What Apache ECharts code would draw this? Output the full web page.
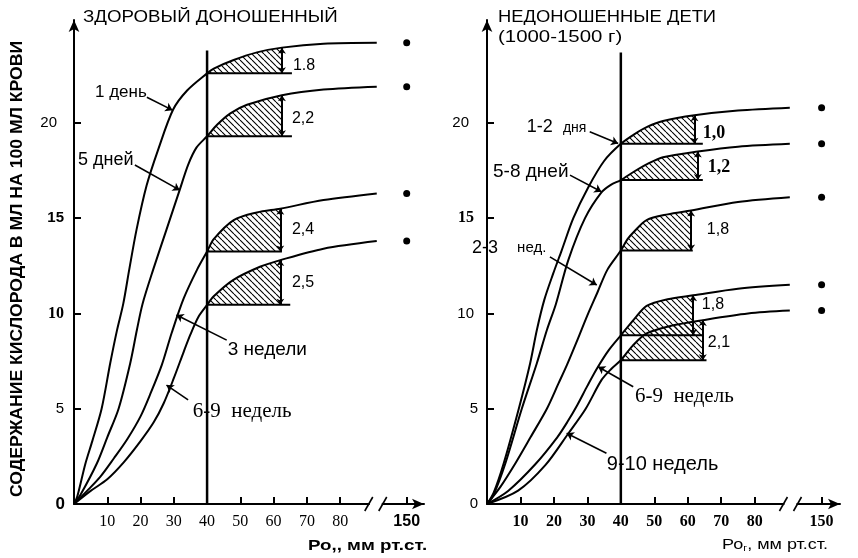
<!DOCTYPE html>
<html><head><meta charset="utf-8">
<script src="https://cdn.jsdelivr.net/npm/echarts@6/dist/echarts.min.js"></script>
<style>html,body{margin:0;padding:0;background:#fff}#c{width:858px;height:558px}</style>
</head><body><div id="c"></div>
<script>
// ---------------- DATA ----------------
const xTickValues = [10, 20, 30, 40, 50, 60, 70, 80, 150];
const yTickValues = [0, 5, 10, 15, 20];
const breakValue = 150;            // shown after the axis break

// Left panel: healthy term newborn  [PO2 mmHg, O2 ml/100ml]
const term1Day = [[0,0],[1,0.4],[3.4,2.1],[5.5,3.3],[8.3,5.0],[10.9,7.4],[12.9,9.1],[14.8,10.5],[16.6,12.3],[18.8,14.4],[21.8,16.7],[25.3,18.6],[29.8,20.7],[34,21.7],[40,22.6],[42,22.85],[48,23.3],[55,23.7],[62.5,23.95],[75,24.15],[91,24.2]];
const term5Days = [[0,0],[2,0.5],[6.9,2.14],[10,3.5],[13.4,5.0],[16.9,7.39],[18.9,9.13],[20.6,10.5],[23.8,12.3],[27.8,14.4],[31.8,16.5],[34.3,17.8],[36.8,18.7],[40,19.3],[43,19.9],[47,20.5],[52,20.95],[62.5,21.45],[75,21.75],[91,21.9]];
const term3Weeks = [[0,0],[4,0.7],[8,1.45],[12,2.4],[16,3.4],[20,4.6],[23,5.8],[26.4,7.3],[29.4,9.0],[33,10.8],[37,12.3],[40,13.25],[42,13.9],[48,14.9],[55,15.3],[62,15.5],[75,15.95],[91,16.3]];
const term6to9Weeks = [[0,0],[5.1,0.7],[10,1.3],[15,2.2],[20,3.3],[24,4.3],[27,5.3],[30,6.6],[33,8.0],[35,8.9],[37.5,9.85],[40,10.45],[42,10.9],[47.8,11.75],[55.9,12.45],[62,12.8],[75,13.4],[91,13.8]];
const termAt150 = [24.2, 21.9, 16.3, 13.8];
const termShadeEnd = [62.5, 62.5, 62, 62];
const termBaseEnd = [65.5, 65.5, 62.5, 65];
const termShadeLabels = ['1.8', '2,2', '2,4', '2,5'];

// Right panel: premature infants (1000-1500 g)
const pre1to2Days = [[0,0],[2,0.6],[5,2.14],[9.5,5.0],[12.9,7.39],[14.9,9.13],[17.1,10.7],[19.8,12.1],[22.3,13.3],[25.8,15.0],[30.2,16.6],[35,18.0],[40,18.9],[44,19.4],[48,19.8],[52.6,20.1],[62,20.4],[75,20.65],[90.5,20.8]];
const pre5to8Days = [[0,0],[2,0.5],[5.5,2.14],[10.4,5.0],[14.9,7.39],[17.9,9.13],[20.6,10.5],[24.3,12.8],[29.3,15.0],[34.2,16.35],[37,16.75],[40,17.0],[44,17.45],[48,17.85],[52.6,18.2],[63,18.5],[75,18.75],[90.5,18.9]];
const pre2to3Weeks = [[0,0],[4,0.9],[8.5,2.14],[13,3.5],[17.9,5.0],[21.3,6.3],[23.9,7.3],[27,8.6],[30,9.9],[33,11.1],[36,12.3],[40,13.3],[42,13.9],[44,14.3],[47.7,14.9],[54,15.2],[61,15.4],[75,15.85],[90.5,16.1]];
const pre6to9Weeks = [[0,0],[6.4,0.7],[14.5,2.1],[21,3.5],[24,4.3],[27,5.2],[30,6.2],[33,7.15],[36.5,8.1],[40,8.85],[44,9.7],[47.7,10.4],[54,10.75],[61.6,10.95],[75,11.3],[90.5,11.5]];
const pre9to10Weeks = [[0,0],[9.3,0.7],[17.5,2.05],[24.3,3.7],[29.5,5.0],[34.2,6.5],[37.2,7.1],[40,7.55],[43.5,8.3],[47.7,8.95],[55,9.35],[64.5,9.65],[78,10.0],[90.5,10.15]];
const preAt150 = [20.8, 18.9, 16.1, 11.5, 10.15];
const preShadeEnd = [62, 63, 61, 61.6, 64.5];
const preBaseEnd = [64.5, 64.5, 61.5, 64.5, 65.6];
const preShadeLabels = ['1,0', '1,2', '1,8', '1,8', '2,1'];

// Annotations: text, anchor [x,y] (data units), font, arrow [x1,y1,x2,y2]
const termNotes = [
  {t:'1 день', at:[6.3,21.6], f:['s',17], arrow:[21.9,21.35,29.6,20.67]},
  {t:'5 дней', at:[1.2,18.05], f:['s',18], arrow:[18.3,17.79,31.8,16.47]},
  {t:'3 недели', at:[46.2,8.08], f:['s',19], arrow:[45.9,8.6,30.8,9.92]},
  {t:'6-9  недель', at:[35.7,4.84], f:['r',21], arrow:[34.3,5.46,27.8,6.24]},
  {t:termShadeLabels[0], at:[65.8,23.03], f:['s',16]},
  {t:termShadeLabels[1], at:[65.5,20.25], f:['s',16]},
  {t:termShadeLabels[2], at:[65.5,14.38], f:['s',16]},
  {t:termShadeLabels[3], at:[65.5,11.6], f:['s',16]}
];
const preNotes = [
  {t:'1-2', at:[11.9,19.78], f:['s',18], arrow:[30.7,19.53,39.2,18.92]},
  {t:'дня', at:[22.7,19.73], f:['s',14]},
  {t:'5-8 дней', at:[1.8,17.42], f:['s',19], arrow:[24.8,17.26,34.2,16.39]},
  {t:'2-3', at:[3.3,13.43], f:['s',18], right:true},
  {t:'нед.', at:[9.0,13.43], f:['s',15], arrow:[18.8,12.97,32.8,11.49]},
  {t:'6-9  недель', at:[44.2,5.63], f:['r',21], arrow:[43.7,6.15,33.2,7.2]},
  {t:'9-10 недель', at:[35.8,2.05], f:['s',20], arrow:[35.7,2.66,23.8,3.71]},
  {t:preShadeLabels[0], at:[64.5,19.46], f:['rb',18]},
  {t:preShadeLabels[1], at:[66.0,17.68], f:['rb',18]},
  {t:preShadeLabels[2], at:[65.7,14.38], f:['s',16]},
  {t:preShadeLabels[3], at:[64.2,10.44], f:['s',16]},
  {t:preShadeLabels[4], at:[66.0,8.45], f:['s',16]}
];

// ---------------- RENDER ----------------
const SANS = 'Liberation Sans', SERIF = 'Liberation Serif';
const axisPos = v => v >= breakValue ? 100 + (v - breakValue) : v;
const valAt = (c, x) => { for (let i = 1; i < c.length; i++) { if (c[i][0] >= x) { const a=c[i-1], b=c[i]; return a[1] + (b[1]-a[1])*(x-a[0])/(b[0]-a[0]); } } return c[c.length-1][1]; };

const hatch = (() => { const c = document.createElement('canvas'); c.width = 6; c.height = 6; const g = c.getContext('2d'); g.strokeStyle = '#000'; g.lineWidth = 1.1; g.beginPath(); for (const k of [-6,0,6]) { g.moveTo(k,0); g.lineTo(k+6,6); } g.stroke(); return c; })();

const fontOf = f => ({
  s:  {fontFamily:SANS, fontWeight:'normal'},
  r:  {fontFamily:SERIF, fontWeight:'normal'},
  rb: {fontFamily:SERIF, fontWeight:'bold'}
})[f[0]];

const panels = [
  {curves:[term1Day, term5Days, term3Weeks, term6to9Weeks], at150:termAt150, shadeEnd:termShadeEnd, baseEnd:termBaseEnd, notes:termNotes, lineTop:23.8},
  {curves:[pre1to2Days, pre5to8Days, pre2to3Weeks, pre6to9Weeks, pre9to10Weeks], at150:preAt150, shadeEnd:preShadeEnd, baseEnd:preBaseEnd, notes:preNotes, lineTop:23.7}
];

const SMOOTH = 0.3;
const series = [];
panels.forEach((p, gi) => {
  const ax = {xAxisIndex: gi, yAxisIndex: gi};
  series.push({type:'line', ...ax, data:[[40,0],[40,p.lineTop]], symbol:'none', lineStyle:{color:'#000', width:2.5}, silent:true});
  p.curves.forEach((c, i) => {
    const base = valAt(c, 40);
    const end = p.shadeEnd[i];
    series.push({type:'line', ...ax, data:c.filter(d => d[0] >= 40 && d[0] <= end), smooth:SMOOTH, symbol:'none',
      lineStyle:{width:0}, areaStyle:{color:{image:hatch, repeat:'repeat'}, origin:base, opacity:1}, silent:true, z:1});
    series.push({type:'line', ...ax, data:c, smooth:SMOOTH, symbol:'none', lineStyle:{color:'#000', width:2}, silent:true, z:3});
    series.push({type:'line', ...ax, data:[[40,base],[p.baseEnd[i],base]], symbol:'none', lineStyle:{color:'#000', width:2}, silent:true, z:3,
      markLine:{silent:true, symbol:['arrow','arrow'], symbolSize:6, label:{show:false}, lineStyle:{color:'#000', width:2, type:'solid'},
        data:[[{coord:[end, base]}, {coord:[end, valAt(c, end)]}]]}});
  });
  series.push({type:'scatter', ...ax, data:p.at150.map(v => [axisPos(breakValue), v]), symbol:'circle', symbolSize:7, itemStyle:{color:'#000', opacity:1}, silent:true});
  series.push({type:'scatter', ...ax, clip:false, symbolSize:0, silent:true, z:5, itemStyle:{opacity:1},
    data:p.notes.map(n => ({value:n.at, label:{show:true, formatter:n.t, position:n.right?'left':'right', distance:0, color:'#000', opacity:1, fontSize:n.f[1], ...fontOf(n.f)}})),
    markLine:{silent:true, symbol:['none','arrow'], symbolSize:7, label:{show:false}, lineStyle:{color:'#000', width:1.6, type:'solid', opacity:1},
      data:p.notes.filter(n => n.arrow).map(n => [{coord:[n.arrow[0], n.arrow[1]]}, {coord:[n.arrow[2], n.arrow[3]]}])}});
  series.push({type:'custom', ...ax, clip:false, silent:true, z:10, data:[[90,0]],
    renderItem:(params, api) => {
      const a = api.coord([88.6, 0]), b = api.coord([92.8, 0]);
      const sl = (p0) => ({type:'line', shape:{x1:p0[0]-4, y1:p0[1]+7, x2:p0[0]+4, y2:p0[1]-7}, style:{stroke:'#000', lineWidth:1.6}});
      return {type:'group', children:[
        {type:'rect', shape:{x:a[0]+1, y:a[1]-3, width:b[0]-a[0]-2, height:6}, style:{fill:'#fff'}},
        sl(a), sl(b)
      ]};
    }});
});

const mkX = (gi, max, labelRich) => ({
  type:'value', gridIndex:gi, min:0, max:max, interval:10,
  axisLine:{onZero:false, lineStyle:{color:'#000', width:2}, symbol:['none','arrow'], symbolSize:[8,12]},
  axisTick:{inside:true, length:7, lineStyle:{color:'#000', width:2}, customValues:xTickValues.map(axisPos)},
  axisLabel:{margin:10, customValues:xTickValues.map(axisPos), formatter:v => v === axisPos(breakValue) ? '{big|' + breakValue + '}' : '{n|' + v + '}', rich:labelRich},
  splitLine:{show:false}
});
const mkY = (gi, rich, fmt) => ({
  type:'value', gridIndex:gi, min:0, max:25.4, interval:5,
  axisLine:{onZero:false, lineStyle:{color:'#000', width:2}, symbol:['none','arrow'], symbolSize:[8,12]},
  axisTick:{inside:true, length:7, lineStyle:{color:'#000', width:2}, customValues:yTickValues.filter(v => v > 0)},
  axisLabel:{margin:9, customValues:yTickValues, formatter:fmt, rich:rich},
  splitLine:{show:false}
});

const option = {
  animation:false,
  backgroundColor:'#fff',
  grid:[
    {left:74, top:20, width:350, height:484},
    {left:487, top:20, width:353, height:484}
  ],
  xAxis:[
    mkX(0, 105.2, {n:{fontFamily:SERIF, fontSize:16, color:'#000'}, big:{fontFamily:SANS, fontSize:16, fontWeight:'bold', color:'#000'}}),
    mkX(1, 105.5, {n:{fontFamily:SERIF, fontSize:16, fontWeight:'bold', color:'#000'}, big:{fontFamily:SERIF, fontSize:16, fontWeight:'bold', color:'#000'}})
  ],
  yAxis:[
    mkY(0, {
      a:{fontFamily:SANS, fontSize:15, color:'#000', padding:[0,8,0,0]},
      b:{fontFamily:SANS, fontSize:15, fontWeight:'bold', color:'#000', padding:[0,1,0,0]},
      c:{fontFamily:SERIF, fontSize:16, fontWeight:'bold', color:'#000', padding:[0,1,0,0]},
      d:{fontFamily:SANS, fontSize:15, color:'#000', padding:[0,1,0,0]},
      e:{fontFamily:SANS, fontSize:17, fontWeight:'bold', color:'#000'}
    }, v => ({20:'{a|20}', 15:'{b|15}', 10:'{c|10}', 5:'{d|5}', 0:'{e|0}'})[v]),
    mkY(1, {
      a:{fontFamily:SANS, fontSize:15, color:'#000', padding:[0,9,0,0]},
      b:{fontFamily:SERIF, fontSize:16, fontWeight:'bold', color:'#000', padding:[0,4,0,0]},
      c:{fontFamily:SANS, fontSize:15, color:'#000', padding:[0,4,0,0]},
      d:{fontFamily:SANS, fontSize:15, color:'#000'}
    }, v => ({20:'{a|20}', 15:'{b|15}', 10:'{c|10}', 5:'{d|5}', 0:'{d|0}'})[v])
  ],
  graphic:[
    {type:'text', x:83, y:9, scaleX:1.1, style:{text:'ЗДОРОВЫЙ ДОНОШЕННЫЙ', font:'17px "Liberation Sans"', fill:'#000', align:'left', verticalAlign:'top'}},
    {type:'text', x:498, y:9, scaleX:1.08, style:{text:'НЕДОНОШЕННЫЕ ДЕТИ', font:'17px "Liberation Sans"', fill:'#000', align:'left', verticalAlign:'top'}},
    {type:'text', x:498, y:29, scaleX:1.2, style:{text:'(1000-1500 г)', font:'17px "Liberation Sans"', fill:'#000', align:'left', verticalAlign:'top'}},
    {type:'text', x:18, y:269, rotation:Math.PI/2, scaleX:1.1, style:{text:'СОДЕРЖАНИЕ КИСЛОРОДА В МЛ НА 100 МЛ КРОВИ', font:'bold 16px "Liberation Sans"', fill:'#000', align:'center', verticalAlign:'middle'}},
    {type:'text', x:308, y:538, scaleX:1.25, style:{text:'Ро,, мм рт.ст.', font:'bold 15px "Liberation Sans"', fill:'#000', align:'left', verticalAlign:'top'}},
    {type:'text', x:722, y:536, scaleX:1.2, style:{text:'{a|Ро}{s|г}{a|, мм рт.ст.}', align:'left', verticalAlign:'top', rich:{a:{font:'15px "Liberation Sans"', fill:'#000'}, s:{font:'9px "Liberation Sans"', fill:'#000', padding:[8,0,0,0]}}}}
  ],
  series:series
};
const chart = echarts.init(document.getElementById('c'), null, {renderer:'canvas'});
chart.setOption(option);
</script></body></html>
